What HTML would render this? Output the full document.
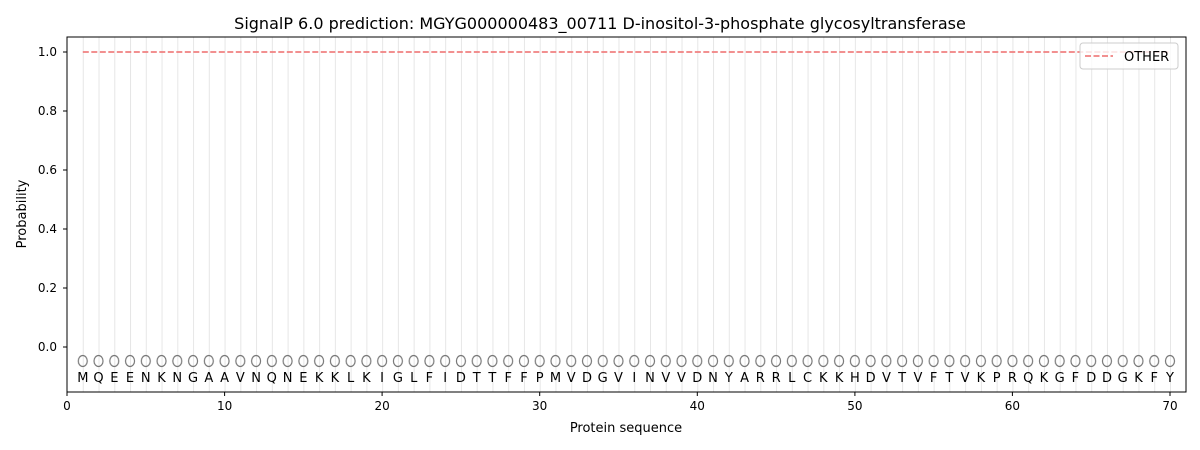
<!DOCTYPE html>
<html><head><meta charset="utf-8"><style>body{margin:0;background:#fff}svg{display:block}text{font-family:"DejaVu Sans","Liberation Sans",sans-serif}</style></head><body>
<svg width="1200" height="450" xmlns="http://www.w3.org/2000/svg">
<defs>
<pattern id="g" patternUnits="userSpaceOnUse" x="82.76" y="0" width="15.757" height="450"><rect x="-1" y="0" width="2" height="450" fill="#e6e6e6"/></pattern>
<pattern id="o" patternUnits="userSpaceOnUse" x="82.76" y="0" width="15.757" height="450"><ellipse cx="0" cy="361" rx="4.5" ry="5.5" fill="none" stroke="#777" stroke-width="1.2"/><ellipse cx="15.757" cy="361" rx="4.5" ry="5.5" fill="none" stroke="#777" stroke-width="1.2"/></pattern>
</defs>
<rect x="81" y="37" width="1091" height="355" fill="url(#g)"/>
<rect x="77" y="350" width="1100" height="22" fill="url(#o)"/>
<line x1="82.8" y1="52" x2="1170" y2="52" stroke="#f08080" stroke-width="1.8" stroke-dasharray="6,2.5"/>
<rect x="67" y="37" width="1119" height="355" fill="none" stroke="#000" stroke-width="1"/>
<text x="600" y="29" font-size="16" text-anchor="middle">SignalP 6.0 prediction: MGYG000000483_00711 D-inositol-3-phosphate glycosyltransferase</text>
<g font-size="12" text-anchor="end">
<text x="57" y="351">0.0</text><text x="57" y="292">0.2</text><text x="57" y="233">0.4</text><text x="57" y="174">0.6</text><text x="57" y="115">0.8</text><text x="57" y="56">1.0</text>
</g>
<path d="M63 347H67M63 288H67M63 229H67M63 170H67M63 111H67M63 52H67M67 392V396M224.6 392V396M382.1 392V396M539.7 392V396M697.3 392V396M854.9 392V396M1012.4 392V396M1170 392V396" stroke="#000"/>
<g font-size="12" text-anchor="middle">
<text x="67" y="410">0</text><text x="224.6" y="410">10</text><text x="382.1" y="410">20</text><text x="539.7" y="410">30</text><text x="697.3" y="410">40</text><text x="854.9" y="410">50</text><text x="1012.4" y="410">60</text><text x="1170" y="410">70</text>
<text x="626" y="432" font-size="13">Protein sequence</text>
<text transform="translate(26,214) rotate(-90)" font-size="13">Probability</text>
</g>
<g font-size="13" text-anchor="middle">
<text x="82.8" y="382">M</text><text x="98.5" y="382">Q</text><text x="114.3" y="382">E</text><text x="130" y="382">E</text><text x="145.8" y="382">N</text><text x="161.5" y="382">K</text><text x="177.3" y="382">N</text><text x="193.1" y="382">G</text><text x="208.8" y="382">A</text><text x="224.6" y="382">A</text><text x="240.3" y="382">V</text><text x="256.1" y="382">N</text><text x="271.8" y="382">Q</text><text x="287.6" y="382">N</text><text x="303.4" y="382">E</text><text x="319.1" y="382">K</text><text x="334.9" y="382">K</text><text x="350.6" y="382">L</text><text x="366.4" y="382">K</text><text x="382.1" y="382">I</text><text x="397.9" y="382">G</text><text x="413.7" y="382">L</text><text x="429.4" y="382">F</text><text x="445.2" y="382">I</text><text x="460.9" y="382">D</text><text x="476.7" y="382">T</text><text x="492.4" y="382">T</text><text x="508.2" y="382">F</text><text x="524" y="382">F</text><text x="539.7" y="382">P</text><text x="555.5" y="382">M</text><text x="571.2" y="382">V</text><text x="587" y="382">D</text><text x="602.7" y="382">G</text><text x="618.5" y="382">V</text><text x="634.3" y="382">I</text><text x="650" y="382">N</text><text x="665.8" y="382">V</text><text x="681.5" y="382">V</text><text x="697.3" y="382">D</text><text x="713" y="382">N</text><text x="728.8" y="382">Y</text><text x="744.6" y="382">A</text><text x="760.3" y="382">R</text><text x="776.1" y="382">R</text><text x="791.8" y="382">L</text><text x="807.6" y="382">C</text><text x="823.3" y="382">K</text><text x="839.1" y="382">K</text><text x="854.9" y="382">H</text><text x="870.6" y="382">D</text><text x="886.4" y="382">V</text><text x="902.1" y="382">T</text><text x="917.9" y="382">V</text><text x="933.6" y="382">F</text><text x="949.4" y="382">T</text><text x="965.1" y="382">V</text><text x="980.9" y="382">K</text><text x="996.7" y="382">P</text><text x="1012.4" y="382">R</text><text x="1028.2" y="382">Q</text><text x="1043.9" y="382">K</text><text x="1059.7" y="382">G</text><text x="1075.4" y="382">F</text><text x="1091.2" y="382">D</text><text x="1107" y="382">D</text><text x="1122.7" y="382">G</text><text x="1138.5" y="382">K</text><text x="1154.2" y="382">F</text><text x="1170" y="382">Y</text>
</g>
<rect x="1080" y="43" width="98" height="26" rx="3" fill="#fff" fill-opacity="0.8" stroke="#ccc"/>
<line x1="1085" y1="56" x2="1113" y2="56" stroke="#f08080" stroke-width="1.8" stroke-dasharray="6,2.5"/>
<text x="1124" y="61" font-size="13">OTHER</text>
</svg>
</body></html>
